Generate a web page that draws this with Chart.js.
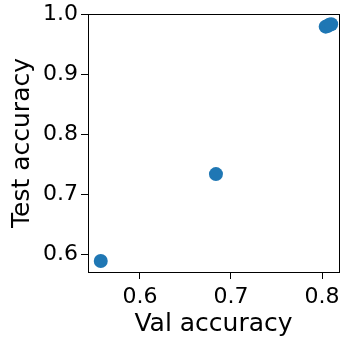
<!DOCTYPE html>
<html>
<head>
<meta charset="utf-8">
<script src="https://cdn.jsdelivr.net/npm/chart.js@4.4.0/dist/chart.umd.min.js"></script>
<style>
  html, body { margin: 0; padding: 0; background: #fff; }
  #wrap { width: 342px; height: 343px; }
</style>
</head>
<body>
<div id="wrap"><canvas id="scatter"></canvas></div>
<script>
// Validation vs. test accuracy per run
const valAcc  = [0.557, 0.6835, 0.804, 0.806, 0.808, 0.810];
const testAcc = [0.5895, 0.734, 0.979, 0.980, 0.982, 0.983];
const xTicks = [0.6, 0.7, 0.8];
const yTicks = [0.6, 0.7, 0.8, 0.9, 1.0];

Chart.defaults.font.family = '"DejaVu Sans", sans-serif';
Chart.defaults.color = '#000';

// box around the plot area (top + right spines)
const frame = {
    id: 'frame',
    afterDraw(chart) {
        const a = chart.chartArea, c = chart.ctx;
        c.save();
        c.strokeStyle = '#000';
        c.lineWidth = 1;
        c.strokeRect(Math.round(a.left) + 0.5, Math.round(a.top) + 0.5,
                     Math.round(a.right - a.left), Math.round(a.bottom - a.top));
        c.restore();
    }
};

const points = valAcc.map((v, i) => ({ x: v, y: testAcc[i] }));

new Chart(document.getElementById('scatter'), {
    type: 'scatter',
    data: {
        datasets: [{
            data: points,
            backgroundColor: '#1f77b4',
            borderColor: '#1f77b4',
            pointRadius: 7,
            borderWidth: 0
        }]
    },
    options: {
        responsive: true,
        maintainAspectRatio: false,
        animation: false,
        layout: { autoPadding: false, padding: { left: 0, top: 14, right: 3, bottom: 0 } },
        plugins: { legend: { display: false }, tooltip: { enabled: false } },
        scales: {
            x: {
                type: 'linear',
                min: 0.543,
                max: 0.8186,
                afterBuildTicks: s => { s.ticks = xTicks.map(v => ({ value: v })); },
                afterFit: s => { s.height = 71; s.paddingLeft = 0; s.paddingRight = 0; },
                ticks: {
                    font: { size: 22 },
                    padding: 5,
                    maxRotation: 0,
                    callback: v => v.toFixed(1)
                },
                grid: { drawOnChartArea: false, drawTicks: true, tickLength: 7, color: '#000' },
                border: { display: true, color: '#000', width: 1 },
                title: { display: true, text: 'Val accuracy', font: { size: 25 }, padding: { top: 0, bottom: 4 } }
            },
            y: {
                type: 'linear',
                min: 0.5713,
                max: 1.0,
                afterBuildTicks: s => { s.ticks = yTicks.map(v => ({ value: v })); },
                afterFit: s => { s.width = 88; s.paddingTop = 0; s.paddingBottom = 0; },
                ticks: {
                    font: { size: 22 },
                    padding: 3,
                    callback: v => v.toFixed(1)
                },
                grid: { drawOnChartArea: false, drawTicks: true, tickLength: 7, color: '#000' },
                border: { display: true, color: '#000', width: 1 },
                title: { display: true, text: 'Test accuracy', font: { size: 25 }, padding: { top: 7, bottom: 0 } }
            }
        }
    },
    plugins: [frame]
});
</script>
</body>
</html>
